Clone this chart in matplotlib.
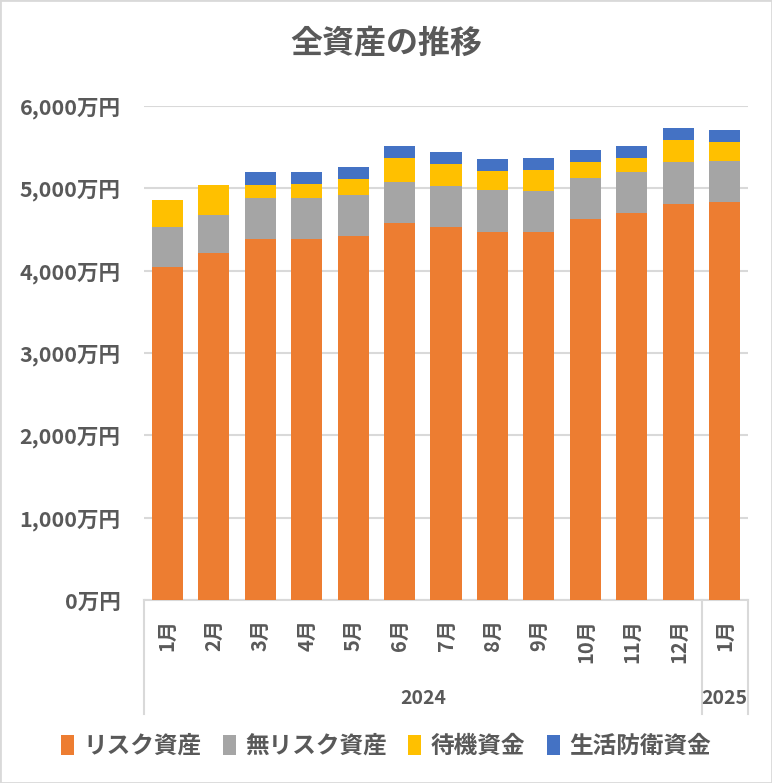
import matplotlib
matplotlib.use('Agg')
import matplotlib.pyplot as plt
import numpy as np
from matplotlib.patches import Rectangle

plt.rcParams['font.family'] = ['Noto Sans CJK JP', 'DejaVu Sans']

# data (万円)
months = ['1月', '2月', '3月', '4月', '5月', '6月', '7月', '8月', '9月', '10月', '11月', '12月', '1月']
years = ['2024', '2025']
risk = [4050, 4210, 4380, 4380, 4415, 4575, 4530, 4465, 4465, 4625, 4695, 4805, 4830]
no_risk = [480, 470, 500, 500, 500, 500, 495, 510, 500, 500, 500, 510, 500]
standby = [325, 355, 160, 170, 195, 290, 270, 230, 255, 195, 170, 270, 230]
living = [0, 0, 155, 145, 145, 145, 145, 155, 145, 145, 145, 145, 145]

series = [('リスク資産', risk, '#ED7D31'),
          ('無リスク資産', no_risk, '#A5A5A5'),
          ('待機資金', standby, '#FFC000'),
          ('生活防衛資金', living, '#4472C4')]

text_col = '#595959'
grid_col = '#d9d9d9'

fig = plt.figure(figsize=(7.72, 7.83), dpi=100)
ax = fig.add_axes([144 / 772, (783 - 600) / 783, (748 - 144) / 772, (600 - 106) / 783])

x = np.arange(len(months))
bottom = np.zeros(len(months))
for name, vals, col in series:
    ax.bar(x, vals, width=0.67, bottom=bottom, color=col, label=name, zorder=3)
    bottom += np.array(vals)

ax.set_ylim(0, 6000)
ax.set_xlim(-0.5, len(months) - 0.5)
yt = np.arange(0, 6001, 1000)
ax.set_yticks(yt)
ax.set_yticklabels([f'{v:,}万円' for v in yt], fontsize=15.5, color=text_col, fontweight='bold')
ax.tick_params(axis='y', length=0, pad=17)
ax.yaxis.grid(True, color=grid_col, linewidth=1.5, zorder=0)
ax.set_xticks(x)
ax.set_xticklabels(months, rotation=90, fontsize=14.5, color=text_col, va='top', fontweight='bold')
ax.tick_params(axis='x', length=0, pad=14)
for s in ['top', 'right', 'left']:
    ax.spines[s].set_visible(False)
ax.spines['bottom'].set_color(grid_col)
ax.spines['bottom'].set_linewidth(1.5)

# year group separators and labels
for xv in [-0.5, 11.5, 12.5]:
    ax.plot([xv, xv], [0, -0.23], transform=ax.get_xaxis_transform(), color=grid_col,
            lw=1.5, clip_on=False)
ax.text(5.5, -0.2, years[0], transform=ax.get_xaxis_transform(), ha='center', va='center',
        fontsize=14, color=text_col, fontweight='bold')
ax.text(12, -0.2, years[1], transform=ax.get_xaxis_transform(), ha='center', va='center',
        fontsize=14, color=text_col, fontweight='bold')

fig.text(0.5, 1 - 43 / 783, '全資産の推移', ha='center', va='center', fontsize=23,
         color=text_col, fontweight='bold')

fig.legend(loc='center', bbox_to_anchor=(0.5, 1 - 746 / 783), ncol=4, frameon=False,
           prop={'size': 17, 'weight': 'bold'}, labelcolor=text_col, handlelength=0.55,
           handleheight=0.9, handletextpad=0.4, columnspacing=0.9)

fig.patches.append(Rectangle((0, 0), 1, 1, transform=fig.transFigure, fill=False,
                             edgecolor=grid_col, linewidth=2))

fig.savefig('out.png', dpi=100)
